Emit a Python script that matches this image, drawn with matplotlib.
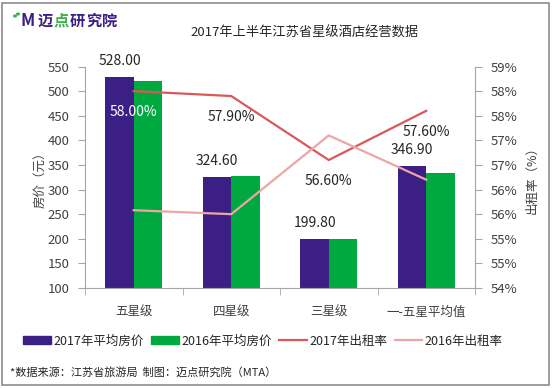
import numpy as np
import matplotlib.pyplot as plt
from matplotlib.patches import Rectangle, Circle, Patch
from matplotlib.lines import Line2D

plt.rcParams['font.family'] = ['Noto Sans CJK SC', 'DejaVu Sans']

categories = ['五星级', '四星级', '三星级', '一-五星平均值']
price_2017 = [528.00, 324.60, 199.80, 346.90]
price_2016 = [520.0, 328.5, 200.0, 333.0]
rate_2017 = [58.00, 57.90, 56.60, 57.60]
rate_2016 = [55.58, 55.50, 57.10, 56.20]

purple = '#3B1F85'
green = '#00A940'
red = '#D9585A'
pink = '#EEA5A5'
axis_gray = '#A6A6A6'
text_dark = '#262626'
tick_col = '#404040'

W, H = 553, 388
fig = plt.figure(figsize=(W / 100, H / 100), dpi=100)

# outer frame
fig.add_artist(Rectangle((2 / W, 3 / H), 547 / W, 382 / H, transform=fig.transFigure,
                         fill=False, edgecolor='#8C8C8C', lw=1.2))

ax = fig.add_axes([85 / W, 1 - 288 / H, 390 / W, (288 - 66.5) / H])
x = np.arange(len(categories))
bw = 0.29
ax.bar(x - bw / 2, np.array(price_2017) - 100, bw, bottom=100, color=purple, zorder=2)
ax.bar(x + bw / 2, np.array(price_2016) - 100, bw, bottom=100, color=green, zorder=2)
ax.set_xlim(-0.5, 3.5)
ax.set_ylim(100, 550)
ax.set_yticks(np.arange(100, 551, 50))
ax.set_xticks(x)
ax.set_xticklabels(categories)
ax.set_xticks(np.arange(-0.5, 3.6, 1), minor=True)
ax.tick_params(axis='x', which='major', length=0, pad=13, labelsize=9, labelcolor=tick_col)
ax.tick_params(axis='x', which='minor', length=5, color=axis_gray, direction='out')
ax.tick_params(axis='y', length=5, color=axis_gray, labelsize=9.5, labelcolor=tick_col, pad=6)
for s in ['top', 'right']:
    ax.spines[s].set_visible(False)
for s in ['left', 'bottom']:
    ax.spines[s].set_color(axis_gray)
ax.set_ylabel('房价（元）', fontsize=9, color=tick_col, labelpad=1)

for xi, v in zip(x, price_2017):
    ax.annotate(f'{v:.2f}', (xi - bw / 2, v), xytext=(0, 11.5), textcoords='offset points',
                ha='center', va='center', fontsize=10, color=text_dark, zorder=5)

ax2 = ax.twinx()
ax2.plot(x, rate_2017, color=red, lw=1.6, zorder=3)
ax2.plot(x, rate_2016, color=pink, lw=1.6, zorder=3)
ax2.set_ylim(54, 58.5)
rticks = np.arange(54, 58.51, 0.5)
ax2.set_yticks(rticks)
ax2.set_yticklabels([f'{int(t + 0.5)}%' for t in rticks])
ax2.tick_params(axis='y', length=5, color=axis_gray, labelsize=9.5, labelcolor=tick_col, pad=6)
for s in ['top', 'left', 'bottom']:
    ax2.spines[s].set_visible(False)
ax2.spines['right'].set_color(axis_gray)
ax2.set_ylabel('出租率（%）', fontsize=9, color=tick_col, rotation=90, labelpad=6)

for i, (xi, v) in enumerate(zip(x, rate_2017)):
    ax2.annotate(f'{v:.2f}%', (xi, v), xytext=(0, -15), textcoords='offset points',
                 ha='center', va='center', fontsize=10,
                 color='white' if i == 0 else text_dark, zorder=5)

# title and logo
fig.text(305 / W, 1 - 33 / H, '2017年上半年江苏省星级酒店经营数据', ha='center', va='center',
         fontsize=9.5, color=text_dark)
for cx, cy in [(15, 16), (18, 14)]:
    fig.add_artist(Circle((cx / W, 1 - cy / H), 1.3 / W, transform=fig.transFigure,
                          color='#3BB34A'))
fig.text(20 / W, 1 - 21 / H, 'M', fontsize=12, color=purple, fontweight='bold', style='italic',
         va='center')
logo = [('迈', purple), ('点', '#3BB34A'), ('研', purple), ('究', purple), ('院', purple)]
for k, (ch, c) in enumerate(logo):
    fig.text((38 + k * 16) / W, 1 - 21 / H, ch, fontsize=11, color=c, fontweight='bold',
             va='center')

handles = [Patch(color=purple), Patch(color=green),
           Line2D([], [], color=red, lw=1.6), Line2D([], [], color=pink, lw=1.6)]
labels = ['2017年平均房价', '2016年平均房价', '2017年出租率', '2016年出租率']
fig.legend(handles, labels, loc='center', bbox_to_anchor=(263 / W, 1 - 341 / H), ncol=4,
           frameon=False, fontsize=9, handlelength=2.2, handleheight=0.6, handletextpad=0.2,
           columnspacing=0.6, labelcolor=text_dark)

fig.text(10 / W, 1 - 372 / H, '*数据来源：江苏省旅游局  制图：迈点研究院（MTA）', fontsize=8,
         color=text_dark, va='center')

fig.savefig('out.png', dpi=100)
